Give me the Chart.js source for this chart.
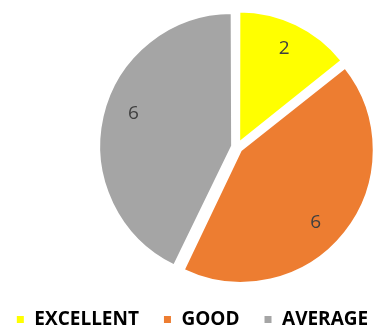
<!DOCTYPE html>
<html>
<head>
<meta charset="utf-8">
<script src="https://cdn.jsdelivr.net/npm/chart.js@4"></script>
<style>
  html, body { margin: 0; padding: 0; background: #fff; }
  #wrap { width: 384px; height: 331px; }
</style>
</head>
<body>
<div id="wrap"><canvas id="ratingPie"></canvas></div>
<script>
// 評価データ
const labels = ['EXCELLENT', 'GOOD', 'AVERAGE'];
const counts = [2, 6, 6];
const colors = ['#FFFF00', '#ED7D31', '#A5A5A5'];

// 円グラフを右下へずらす
const shiftArea = {
    id: 'shiftArea',
    afterLayout(chart) {
        const a = chart.chartArea;
        a.left += 45;
        a.right += 45;
        a.top += 4;
        a.bottom += 4;
    }
};

// 各扇形に値を表示 (大きい扇形はラベルを少し時計回りに)
const sliceLabels = {
    id: 'sliceLabels',
    afterDatasetsDraw(chart) {
        const ctx = chart.ctx;
        const meta = chart.getDatasetMeta(0);
        ctx.save();
        ctx.font = '19px "Open Sans", sans-serif';
        ctx.fillStyle = '#404040';
        ctx.textAlign = 'center';
        ctx.textBaseline = 'middle';
        meta.data.forEach((arc, i) => {
            const p = arc.getProps(['x', 'y', 'startAngle', 'endAngle', 'outerRadius']);
            const sweep = p.endAngle - p.startAngle;
            const mid = (p.startAngle + p.endAngle) / 2 + (sweep > Math.PI / 2 ? 0.09 : 0);
            const dist = arc.options.offset / 4 + p.outerRadius * 0.8;
            ctx.fillText(String(counts[i]), p.x + Math.cos(mid) * dist, p.y + Math.sin(mid) * dist);
        });
        ctx.restore();
    }
};

const ctx = document.getElementById('ratingPie').getContext('2d');
new Chart(ctx, {
    type: 'pie',
    data: {
        labels: labels,
        datasets: [{
            data: counts,
            backgroundColor: colors,
            borderColor: '#ffffff',
            borderWidth: 2,
            offset: 20,
            radius: 130
        }]
    },
    options: {
        responsive: true,
        maintainAspectRatio: false,
        animation: false,
        layout: {
            padding: { top: 0, bottom: -8, left: -12, right: -12 }
        },
        plugins: {
            legend: {
                position: 'bottom',
                labels: {
                    color: '#000000',
                    font: { family: '"Open Sans", sans-serif', size: 19, weight: 'bold' },
                    boxWidth: 9,
                    boxHeight: 9,
                    padding: 24
                }
            },
            tooltip: { enabled: false }
        }
    },
    plugins: [shiftArea, sliceLabels]
});
</script>
</body>
</html>
